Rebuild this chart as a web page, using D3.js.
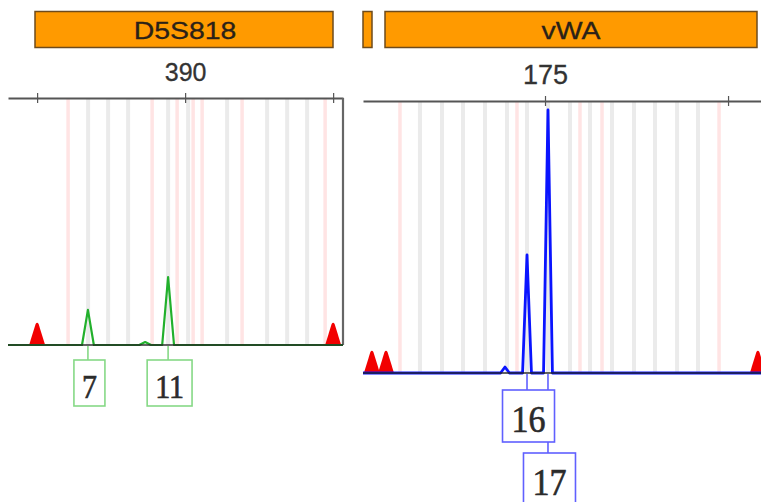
<!DOCTYPE html>
<html>
<head>
<meta charset="utf-8">
<script src="https://cdn.jsdelivr.net/npm/d3@7"></script>
<style>
  html, body { margin: 0; padding: 0; background: #fff; overflow: hidden; }
  svg { display: block; }
</style>
</head>
<body>
<svg id="chart" width="761" height="502"></svg>
<script>
// ---- D5S818 (green dye) ----
const d5Name = "D5S818";
const d5View = [354.1, 422.0];            // visible size window, bp
const d5Ticks = [360, 390, 420];
const d5TickLabels = ["", "390", ""];
const d5BinsGray = [370.34, 374.39, 378.45, 386.55, 390.61, 398.51, 406.62, 410.68, 414.73];
const d5BinsPink = [366.28, 383.31, 388.38, 391.62, 393.45, 401.55, 418.38];
const d5Alleles = ["7", "11"];
const d5AlleleSizes = [370.3, 386.55];
const d5AlleleHeights = [142, 275];
const d5MinorSizes = [381.9];
const d5MinorHeights = [12];
const d5Markers = [360, 420];

// ---- vWA (blue dye) ----
const vwaName = "vWA";
const vwaView = [140.2, 216.3];
const vwaTicks = [175, 210];
const vwaTickLabels = ["175", ""];
const vwaBinsGray = [151.09, 155.30, 159.32, 163.52, 167.73, 171.56, 175.57, 179.78, 183.61,
                     187.81, 192.02, 196.04, 200.25, 204.26];
const vwaBinsPink = [147.27, 169.64, 181.69, 185.90, 208.28];
const vwaAlleles = ["16", "17"];
const vwaAlleleSizes = [171.56, 175.57];
const vwaAlleleHeights = [434, 967];
const vwaMinorSizes = [167.35];
const vwaMinorHeights = [22];
const vwaMarkers = [141.9, 144.6, 215.7];

const svg = d3.select("#chart");

// locus header bars
const headers = [
  { x: 35, w: 298, label: d5Name, cx: 185 },
  { x: 363, w: 9, label: "", cx: 0 },
  { x: 385, w: 372, label: vwaName, cx: 571 }
];
headers.forEach(h => {
  svg.append("rect")
    .attr("x", h.x).attr("y", 11.5).attr("width", h.w).attr("height", 36)
    .attr("fill", "#ff9a00").attr("stroke", "#6e4b1c").attr("stroke-width", 1.5);
  if (h.label) {
    svg.append("text")
      .attr("transform", `translate(${h.cx},39) scale(1.16,1)`)
      .attr("text-anchor", "middle")
      .attr("font-family", "Liberation Sans, Arial, sans-serif")
      .attr("font-size", 24.5)
      .attr("fill", "#2a2118")
      .attr("stroke", "#2a2118").attr("stroke-width", 0.3)
      .text(h.label);
  }
});

function drawPanel(o) {
  const x = d3.scaleLinear().domain(o.view).range([o.left, o.right]);
  const y = d3.scaleLinear().domain([0, 1000]).range([o.base, o.top]);
  const g = svg.append("g");

  // allele bins
  g.selectAll(".binG").data(o.binsGray).join("line")
    .attr("x1", d => x(d)).attr("x2", d => x(d))
    .attr("y1", o.top).attr("y2", o.base)
    .attr("stroke", "#ebebeb").attr("stroke-width", 4);
  g.selectAll(".binP").data(o.binsPink).join("line")
    .attr("x1", d => x(d)).attr("x2", d => x(d))
    .attr("y1", o.top).attr("y2", o.base)
    .attr("stroke", "#ffe4e4").attr("stroke-width", 3.5);

  // top size axis
  const axis = d3.axisTop(x).tickValues(o.ticks)
    .tickFormat((d, i) => o.tickLabels[i]).tickSizeOuter(0).tickSizeInner(5).tickPadding(12);
  const ax = g.append("g").attr("transform", `translate(0,${o.top})`).call(axis);
  ax.select(".domain").attr("stroke", "#555").attr("stroke-width", 2);
  ax.selectAll(".tick line").attr("y1", 5).attr("y2", -5).attr("stroke", "#555").attr("stroke-width", 1.2);
  ax.selectAll(".tick text")
    .attr("font-family", "Liberation Sans, Arial, sans-serif")
    .attr("font-size", o.tickFont).attr("fill", "#333")
    .attr("stroke", "#333").attr("stroke-width", 0.3);

  if (o.border) {
    g.append("line").attr("x1", o.right).attr("x2", o.right)
      .attr("y1", o.top).attr("y2", o.base)
      .attr("stroke", "#666").attr("stroke-width", 2.2);
  }

  // electropherogram trace
  const peaks = [];
  o.sizes.forEach((s, i) => peaks.push({ s, h: o.heights[i] }));
  o.minorSizes.forEach((s, i) => peaks.push({ s, h: o.minorHeights[i] }));
  peaks.sort((a, b) => a.s - b.s);
  const pts = [[o.view[0], 0]];
  peaks.forEach(p => { pts.push([p.s - o.hw, 0], [p.s, p.h], [p.s + o.hw, 0]); });
  pts.push([o.view[1], 0]);
  const line = d3.line().x(d => x(d[0])).y(d => y(d[1]));

  // size-standard markers
  g.selectAll(".mk").data(o.markers).join("path")
    .attr("d", d => {
      const cx = x(d);
      return `M${cx - 8},${o.base} L${cx - 1.5},${o.base - 21} Q${cx},${o.base - 23.5} ${cx + 1.5},${o.base - 21} L${cx + 8},${o.base} Z`;
    })
    .attr("fill", "#f20000");

  g.append("path").attr("d", line(pts))
    .attr("fill", "none").attr("stroke", o.color)
    .attr("stroke-width", o.traceWidth).attr("stroke-linejoin", "round");
  g.append("line").attr("x1", o.left).attr("x2", o.right)
    .attr("y1", o.base).attr("y2", o.base)
    .attr("stroke", "#222").attr("stroke-opacity", 0.7).attr("stroke-width", 2);

  // allele call boxes, stacked into rows when they would overlap
  const rows = [];
  const labels = o.alleles.map((a, i) => ({ a, px: x(o.sizes[i]) }));
  labels.forEach(l => {
    const t = svg.append("text")
      .attr("font-family", "Liberation Serif, Times New Roman, serif")
      .attr("font-size", o.labelFont).text(l.a);
    l.tw = t.node().getComputedTextLength();
    t.remove();
    l.w = l.tw + o.pad * 2;
    l.x0 = l.px + 1.5 - l.w / 2;
    let r = 0;
    while (rows[r] !== undefined && rows[r] > l.x0 - 2) r++;
    rows[r] = l.x0 + l.w;
    l.row = r;
    l.y0 = o.base + o.gap + r * (o.boxH + o.rowGap);
  });
  labels.forEach(l => {
    g.append("line").attr("x1", l.px).attr("x2", l.px)
      .attr("y1", o.base + 1).attr("y2", l.y0)
      .attr("stroke", o.boxColor).attr("stroke-width", 1.6);
  });
  labels.forEach(l => {
    g.append("rect").attr("x", l.x0).attr("y", l.y0)
      .attr("width", l.w).attr("height", o.boxH)
      .attr("fill", "#fff").attr("stroke", o.boxColor).attr("stroke-width", 1.6);
    g.append("text")
      .attr("transform", `translate(${l.x0 + l.w / 2},${l.y0 + o.textBase}) scale(1,${o.stretch})`)
      .attr("text-anchor", "middle")
      .attr("font-family", "Liberation Serif, Times New Roman, serif")
      .attr("font-size", o.labelFont).attr("fill", "#2b2b2b")
      .attr("stroke", "#2b2b2b").attr("stroke-width", 0.6)
      .text(l.a);
  });
}

drawPanel({
  view: d5View, left: 8, right: 343, top: 98, base: 345, border: true,
  ticks: d5Ticks, tickLabels: d5TickLabels, tickFont: 25,
  binsGray: d5BinsGray, binsPink: d5BinsPink,
  alleles: d5Alleles, sizes: d5AlleleSizes, heights: d5AlleleHeights,
  minorSizes: d5MinorSizes, minorHeights: d5MinorHeights, markers: d5Markers,
  color: "#22b02c", traceWidth: 2.2, hw: 1.2, boxColor: "#86d986",
  labelFont: 30, pad: 8, boxH: 46, gap: 15, rowGap: 14, textBase: 38, stretch: 1.1
});

drawPanel({
  view: vwaView, left: 363, right: 761, top: 101, base: 373, border: false,
  ticks: vwaTicks, tickLabels: vwaTickLabels, tickFont: 27,
  binsGray: vwaBinsGray, binsPink: vwaBinsPink,
  alleles: vwaAlleles, sizes: vwaAlleleSizes, heights: vwaAlleleHeights,
  minorSizes: vwaMinorSizes, minorHeights: vwaMinorHeights, markers: vwaMarkers,
  color: "#0a14ff", traceWidth: 2.8, hw: 0.85, boxColor: "#6060ff",
  labelFont: 34, pad: 9, boxH: 52, gap: 17, rowGap: 11, textBase: 41.5, stretch: 1.12
});
</script>
</body>
</html>
